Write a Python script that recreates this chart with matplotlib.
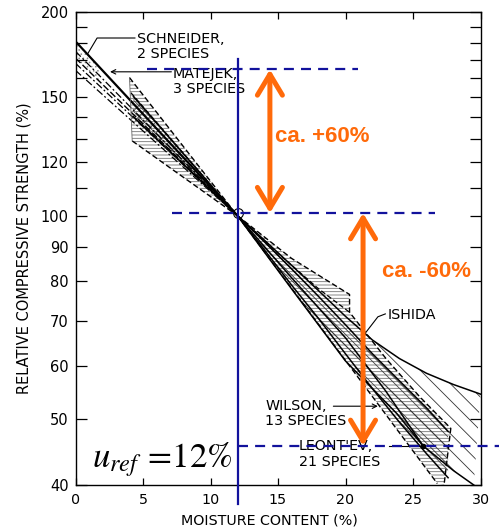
import numpy as np
import matplotlib
matplotlib.use("Agg")
import matplotlib.pyplot as plt
from matplotlib.ticker import FixedLocator, FixedFormatter, NullFormatter

plt.rcParams["font.family"] = ["DejaVu Sans"]
plt.rcParams["hatch.linewidth"] = 0.6
plt.rcParams["mathtext.fontset"] = "stix"

# ---- axes ticks -------------------------------------------------------
x_ticks = [0, 5, 10, 15, 20, 25, 30]
x_labels = ["0", "5", "10", "15", "20", "25", "30"]
y_major = [40, 50, 60, 70, 80, 90, 100, 120, 150, 200]
y_labels = ["40", "50", "60", "70", "80", "90", "100", "120", "150", "200"]
y_minor = [110, 130, 140, 160, 170, 180, 190]

# ---- Schneider, 2 species (0-12 % MC) ---------------------------------
schneider_x = [0, 12]
schneider_hi = [181, 100]
schneider_lo = [171, 100]
schneider_dot_x = [0, 1.8, 1.8, 0]
schneider_dot_y = [181, 165.6, 157.8, 171]

# ---- Matejek, 3 species -----------------------------------------------
matejek_x = [0, 12]
matejek_a = [175, 100]
matejek_b = [168, 100]
matejek_c = [164, 100]

# ---- Wilson, 13 species: dashed limits --------------------------------
wilson_l_up_x = [4.0, 12]
wilson_l_up = [160, 100]
wilson_l_lo_x = [4.2, 12]
wilson_l_lo = [129, 100]
wilson_l_mid_x = [4.1, 12]
wilson_l_mid = [152, 100]
wilson_r_up_x = [12, 16, 20.3, 20.3, 23, 25.5, 27.8, 27.3]
wilson_r_up = [100, 86.5, 76.5, 72, 61.5, 54, 48.5, 40]
wilson_r_lo_x = [12, 26.8]
wilson_r_lo = [100, 40.2]
wilson_r_mid_x = [12, 15, 18, 20.3]
wilson_r_mid = [100, 88, 78, 72]

# ---- Leont'ev, 21 species: solid limits -------------------------------
leontev_l_x = [4.3, 12]
leontev_l_hi = [150, 100]
leontev_l_lo = [140, 100]
leontev_r_x = [12, 14, 16, 18, 20, 22, 24, 26, 27.6]
leontev_r_hi = [100, 91.5, 83.5, 76, 69, 62.5, 57, 52, 48]
leontev_r_lo = [100, 89, 79, 70.5, 62.5, 55.5, 49.5, 44.5, 41]
leontev_r_mean_x = [12, 16, 20, 23, 25.75]
leontev_r_mean = [100, 81, 66, 55, 45.7]

# ---- Ishida -----------------------------------------------------------
ishida_up_x = [12, 14, 16, 18, 20, 22, 24, 26, 28, 30]
ishida_up = [100, 92, 84.5, 77.5, 71, 65.5, 61.5, 58.5, 56.3, 54.5]
ishida_lo_x = [12, 16, 20, 23.8, 25.75, 28, 29.5]
ishida_lo = [100, 78, 61, 51, 45.7, 42, 40]

# ---- reference lines --------------------------------------------------
u_ref = 12
strength_ref = 100.9
strength_dry = 164.5
strength_wet = 45.7

BLUE = "#12129c"
ORANGE = "#ff6a0a"

fig = plt.figure(figsize=(5.0, 5.29), dpi=100)
ax = fig.add_axes([0.151, 0.0832, 0.810, 0.894])
ax.set_yscale("log")
ax.set_xlim(0, 30)
ax.set_ylim(40, 200)


def band(ax, ux, uy, lx, ly, hatch, color="0.25"):
    xs = np.r_[ux, lx[::-1]]
    ys = np.r_[uy, ly[::-1]]
    ax.fill(xs, ys, facecolor="none", edgecolor=color, hatch=hatch,
            linewidth=0, zorder=1)


# hatched fields
band(ax, wilson_l_up_x, wilson_l_up, wilson_l_lo_x, wilson_l_lo, "-----", "0.45")
band(ax, wilson_r_up_x, wilson_r_up, wilson_r_lo_x, wilson_r_lo, "-----", "0.45")
band(ax, leontev_l_x, leontev_l_hi, leontev_l_x, leontev_l_lo, "xxx", "0.25")
band(ax, leontev_r_x, leontev_r_hi, leontev_r_x, leontev_r_lo, "\\\\\\", "0.25")
band(ax, ishida_up_x, ishida_up, ishida_lo_x, ishida_lo, "\\\\", "0.2")
ax.fill(schneider_dot_x, schneider_dot_y, facecolor="none", edgecolor="0.55",
        hatch="....", linewidth=0, zorder=1)

# curve limits
k = dict(color="black", zorder=2)
ax.plot(schneider_x, schneider_hi, lw=1.6, **k)
ax.plot(schneider_x, schneider_lo, lw=1.0, ls=(0, (5, 2)), **k)
for yy in (matejek_a, matejek_b, matejek_c):
    ax.plot(matejek_x, yy, lw=0.9, ls=(0, (6, 2, 1.5, 2)), **k)
ax.plot(wilson_l_up_x, wilson_l_up, lw=1.0, ls=(0, (4, 2)), **k)
ax.plot(wilson_l_lo_x, wilson_l_lo, lw=1.0, ls=(0, (4, 2)), **k)
ax.plot(wilson_l_mid_x, wilson_l_mid, lw=0.9, ls=(0, (4, 2)), **k)
ax.plot([wilson_l_up_x[0], wilson_l_lo_x[0]], [wilson_l_up[0], wilson_l_lo[0]],
        lw=0.6, color="0.4", zorder=2)
ax.plot(wilson_r_up_x, wilson_r_up, lw=1.0, ls=(0, (4, 2)), **k)
ax.plot(wilson_r_lo_x, wilson_r_lo, lw=1.0, ls=(0, (4, 2)), **k)
ax.plot(wilson_r_mid_x, wilson_r_mid, lw=0.9, ls=(0, (4, 2)), **k)
ax.plot(leontev_l_x, leontev_l_hi, lw=1.2, **k)
ax.plot(leontev_l_x, leontev_l_lo, lw=1.2, **k)
ax.plot(leontev_r_x, leontev_r_hi, lw=1.1, **k)
ax.plot(leontev_r_x, leontev_r_lo, lw=1.1, **k)
ax.plot(leontev_r_mean_x, leontev_r_mean, lw=1.1, **k)
ax.plot(ishida_up_x, ishida_up, lw=1.1, **k)
ax.plot(ishida_lo_x, ishida_lo, lw=1.1, **k)
ax.plot([u_ref], [strength_ref], marker="o", ms=7, mfc="none", mec="black",
        mew=0.8, zorder=3)

# labels of the data sources
tk = dict(fontsize=10.3, color="black", ha="left", va="center",
          linespacing=1.15, zorder=4)
ax.text(4.56, 177.9, "SCHNEIDER,\n2 SPECIES", **tk)
ax.plot([4.4, 1.6, 0.93], [183.1, 183.1, 173.9], color="black", lw=0.8, zorder=4)
ax.text(7.2, 158.0, "MATEJEK,\n3 SPECIES", **tk)
ax.annotate("", xy=(2.56, 163.2), xytext=(7.1, 163.2),
            arrowprops=dict(arrowstyle="->", lw=0.8, color="black",
                            shrinkA=0, shrinkB=0, mutation_scale=8), zorder=4)
ax.text(23.15, 71.4, "ISHIDA", **tk)
ax.plot([22.95, 22.4, 21.45], [71.6, 70.9, 67.0], color="black", lw=0.8, zorder=4)
ax.text(14.05, 51.0, "WILSON,\n13 SPECIES", **tk)
ax.annotate("", xy=(22.4, 52.3), xytext=(19.1, 52.3),
            arrowprops=dict(arrowstyle="->", lw=0.8, color="black",
                            shrinkA=0, shrinkB=0, mutation_scale=8), zorder=4)
ax.text(16.55, 44.4, "LEONT'EV,\n21 SPECIES", **tk)
ax.plot([23.2, 25.75], [45.7, 45.7], color="black", lw=0.8, zorder=4)
ax.plot([25.75], [45.7], marker="o", ms=3, color="black", zorder=4)

# reference moisture content and strength levels
ax.plot([u_ref, u_ref], [170.6, 37.5], color=BLUE, lw=1.6, zorder=5,
        clip_on=False)
dash = (0, (4.5, 3.2))
ax.plot([5.3, 20.9], [strength_dry] * 2, color=BLUE, lw=1.6, ls=dash, zorder=5)
ax.plot([7.15, 26.6], [strength_ref] * 2, color=BLUE, lw=1.6, ls=dash, zorder=5)
ax.plot([u_ref, 31.4], [strength_wet] * 2, color=BLUE, lw=1.6, ls=dash, zorder=5,
        clip_on=False)

# change of strength arrows
arr = dict(arrowstyle="<->,head_length=0.75,head_width=0.45", lw=3.6,
           color=ORANGE, shrinkA=0, shrinkB=0, mutation_scale=20)
ax.annotate("", xy=(14.4, strength_dry), xytext=(14.4, strength_ref),
            arrowprops=arr, zorder=6)
ax.annotate("", xy=(21.3, strength_ref), xytext=(21.3, strength_wet),
            arrowprops=arr, zorder=6)
ok = dict(color=ORANGE, fontsize=16, fontweight="bold", ha="left", va="center",
          family=["Liberation Sans", "DejaVu Sans"], zorder=6)
ax.text(14.8, 130.8, "ca. +60%", **ok)
ax.text(22.7, 82.6, "ca. -60%", **ok)

ax.text(1.25, 42.5, r"$u_{ref}\,=\!12\%$", fontsize=25, ha="left",
        va="baseline", color="black", zorder=6)

# axes decoration
ax.xaxis.set_major_locator(FixedLocator(x_ticks))
ax.xaxis.set_major_formatter(FixedFormatter(x_labels))
ax.yaxis.set_major_locator(FixedLocator(y_major))
ax.yaxis.set_major_formatter(FixedFormatter(y_labels))
ax.yaxis.set_minor_locator(FixedLocator(y_minor))
ax.yaxis.set_minor_formatter(NullFormatter())
ax.xaxis.set_minor_locator(FixedLocator([]))
ax.tick_params(axis="y", which="both", direction="in", length=8, width=0.9,
               right=True, left=True, labelsize=10.5, pad=5)
ax.tick_params(axis="x", which="both", direction="in", length=5, width=0.9,
               top=True, bottom=True, labelsize=10.3, pad=5.5)
for s in ax.spines.values():
    s.set_linewidth(1.0)

ax.set_xlabel("MOISTURE CONTENT (%)", fontsize=10.3, va="center")
ax.xaxis.set_label_coords(0.478, -0.0755)
ax.set_ylabel("RELATIVE COMPRESSIVE STRENGTH (%)", fontsize=10.5, va="center")
ax.yaxis.set_label_coords(-0.127, 0.5)

fig.savefig("out.png", dpi=100)
